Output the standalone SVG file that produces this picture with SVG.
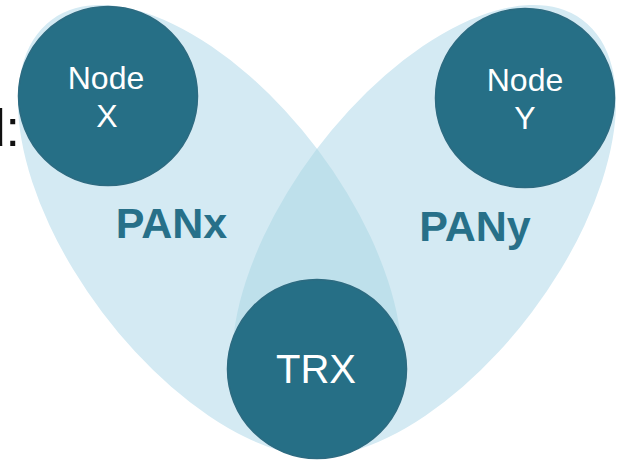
<svg xmlns="http://www.w3.org/2000/svg" width="621" height="460" viewBox="0 0 621 460">
<style>
.pan{fill:#D4EAF3}
.overlap{fill:#BEE0EB}
.node circle{fill:#266F86;stroke:#2D6B81;stroke-width:1.5}
.nl{font-family:"Liberation Sans",Arial,sans-serif;fill:#FFFFFF;text-anchor:middle}
.pl{font-family:"Liberation Sans",Arial,sans-serif;font-weight:bold;fill:#277089;text-anchor:middle;font-size:43px}
.side{font-family:"Liberation Sans",Arial,sans-serif;fill:#111111;font-size:52px;text-anchor:end}
</style>
<defs>
<clipPath id="clipLeft">
<ellipse cx="0" cy="0" rx="264" ry="135" transform="translate(210 231) rotate(53)"/>
</clipPath>
</defs>
<rect x="0" y="0" width="621" height="460" fill="#FFFFFF"/>
<text class="side" x="20" y="146">d:</text>
<g id="pan-x">
<ellipse class="pan" cx="0" cy="0" rx="264" ry="135" transform="translate(210 231) rotate(53)"/>
</g>
<g id="pan-y">
<ellipse class="pan" cx="0" cy="0" rx="264" ry="135" transform="translate(424 231) rotate(-53)"/>
</g>
<g id="pan-overlap" clip-path="url(#clipLeft)">
<ellipse class="overlap" cx="0" cy="0" rx="264" ry="135" transform="translate(424 231) rotate(-53)"/>
</g>
<text class="pl" x="171.5" y="238">PANx</text>
<text class="pl" x="475" y="241">PANy</text>
<g id="connectors"></g>
<g id="node-x" class="node">
<circle cx="108" cy="96" r="89.5"/>
<text class="nl" x="106" y="89" font-size="32">Node</text>
<text class="nl" x="107" y="127" font-size="32">X</text>
</g>
<g id="node-y" class="node">
<circle cx="525" cy="98" r="89.5"/>
<text class="nl" x="525" y="90.5" font-size="32">Node</text>
<text class="nl" x="525" y="128.5" font-size="32">Y</text>
</g>
<g id="node-trx" class="node">
<circle cx="317" cy="369" r="89.5"/>
<text class="nl" x="316" y="383" font-size="40">TRX</text>
</g>
</svg>
